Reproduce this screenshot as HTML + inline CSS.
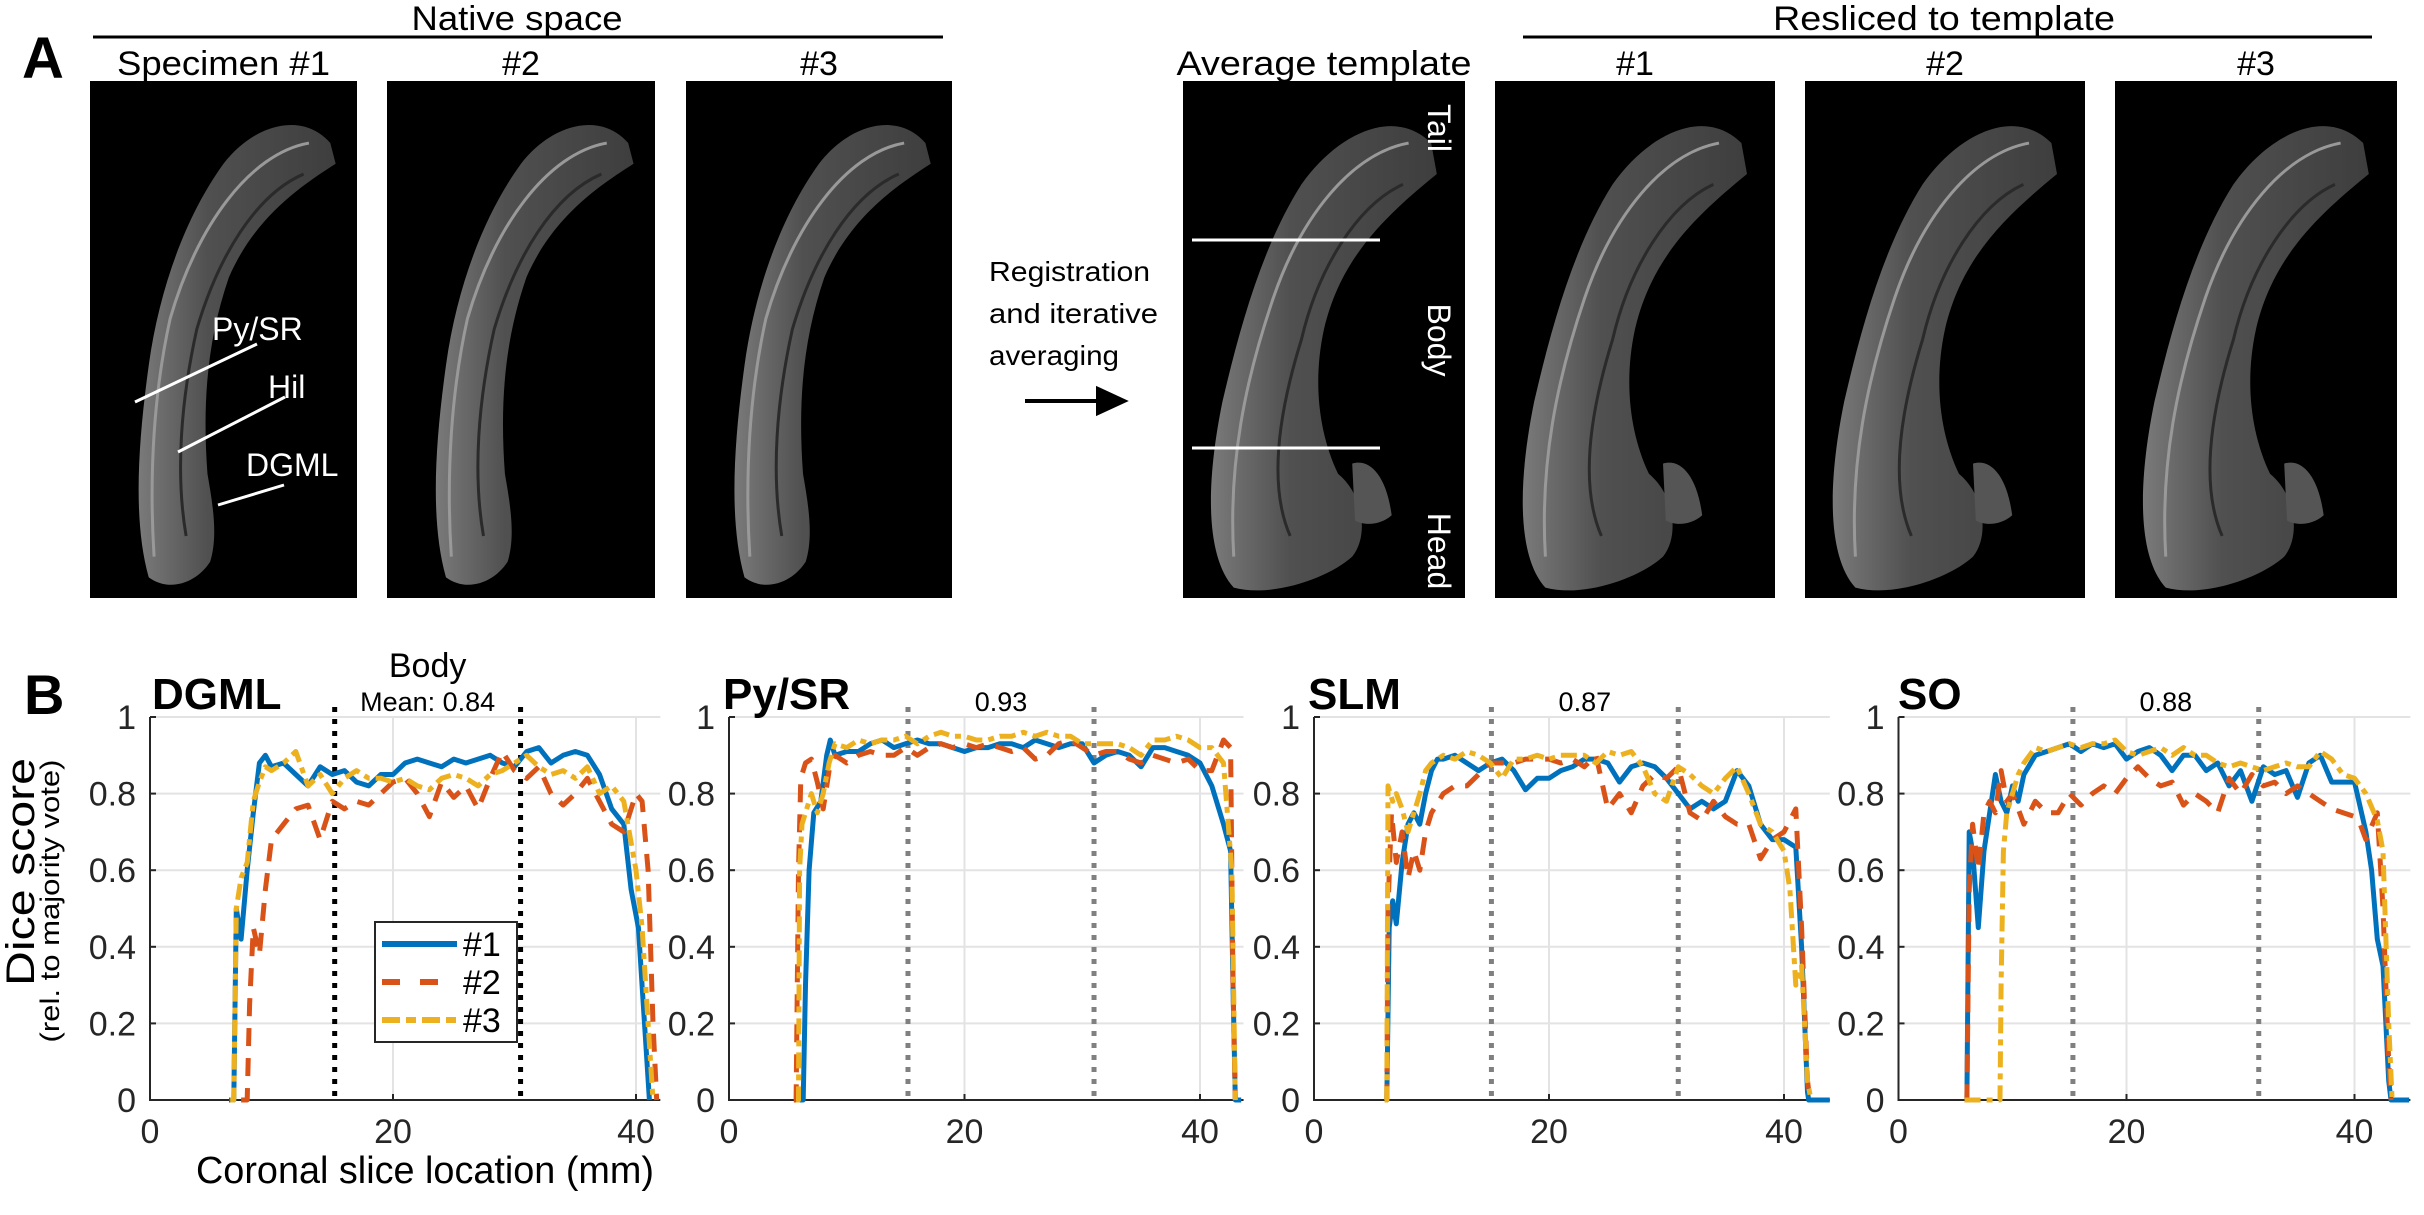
<!DOCTYPE html>
<html><head><meta charset="utf-8"><title>Hippocampus template and Dice scores</title>
<style>
html,body{margin:0;padding:0;background:#fff;}
svg{display:block;}
text{font-family:"Liberation Sans",sans-serif;}
</style></head>
<body>
<svg id="fig" xmlns="http://www.w3.org/2000/svg" width="2424" height="1215" viewBox="0 0 2424 1215">
<defs>
<linearGradient id="tissue" x1="0" y1="0" x2="1" y2="0">
<stop offset="0" stop-color="#7a7a7a"/><stop offset="0.35" stop-color="#505050"/><stop offset="1" stop-color="#3e3e3e"/>
</linearGradient>
</defs>
<g id="panelA"></g>
<g id="panelB"></g>
</svg>
<script>
// ===== Chart data (mm positions and Dice values) =====
const xTickLabels = ["0","20","40"];
const yTickLabels = ["0","0.2","0.4","0.6","0.8","1"];
const seriesNames = ["#1","#2","#3"];
const panelTitles = ["DGML","Py/SR","SLM","SO"];
const bodyMeans = ["Mean: 0.84","0.93","0.87","0.88"];
const bodyBounds = [[15.2,30.5],[15.2,31.0],[15.1,31.0],[15.3,31.6]];

const dgmlX1 = [6.5,6.9,7.1,7.5,8,8.5,9,9.5,10,11,12,13,14,15,16,17,18,19,20,21,22,23,24,25,26,27,28,29,30,31,32,33,34,35,36,37,38,39,39.6,40.2,40.7,41.1];
const dgmlY1 = [0,0,0.5,0.42,0.6,0.75,0.88,0.9,0.87,0.88,0.85,0.82,0.87,0.85,0.86,0.83,0.82,0.85,0.85,0.88,0.89,0.88,0.87,0.89,0.88,0.89,0.9,0.88,0.87,0.91,0.92,0.88,0.9,0.91,0.9,0.85,0.76,0.72,0.55,0.45,0.2,0];
const dgmlX2 = [7.5,8.0,8.2,8.5,9,9.5,10,11,12,13,14,15,16,17,18,19,20,21,22,23,24,25,26,27,28,29,30,31,32,33,34,35,36,37,38,39,40,40.5,41,41.4,41.7];
const dgmlY2 = [0,0,0.25,0.45,0.38,0.55,0.68,0.72,0.76,0.77,0.68,0.78,0.76,0.78,0.77,0.8,0.83,0.84,0.8,0.74,0.83,0.79,0.82,0.76,0.84,0.91,0.86,0.84,0.87,0.8,0.77,0.8,0.84,0.78,0.72,0.7,0.8,0.78,0.6,0.2,0];
const dgmlX3 = [6.6,6.9,7.1,7.5,8,8.5,9,9.5,10,11,12,13,14,15,16,17,18,19,20,21,22,23,24,25,26,27,28,29,30,31,32,33,34,35,36,37,38,39,40,40.5,41,41.4];
const dgmlY3 = [0,0,0.5,0.58,0.62,0.78,0.83,0.87,0.86,0.88,0.91,0.82,0.85,0.8,0.84,0.86,0.84,0.84,0.83,0.84,0.82,0.81,0.84,0.85,0.84,0.82,0.85,0.86,0.88,0.9,0.87,0.85,0.86,0.84,0.87,0.8,0.82,0.78,0.6,0.45,0.2,0];

const pyX1 = [6.0,6.3,6.5,6.8,7.2,7.8,8.3,8.6,9,10,11,12,13,14,15,16,17,18,19,20,21,22,23,24,25,26,27,28,29,30,31,32,33,34,35,36,37,38,39,40,41,42,42.6,42.8,43.0,43.5];
const pyY1 = [0,0,0.3,0.6,0.75,0.78,0.9,0.94,0.9,0.91,0.91,0.93,0.94,0.92,0.93,0.94,0.93,0.93,0.92,0.91,0.92,0.92,0.93,0.93,0.92,0.94,0.93,0.92,0.93,0.93,0.88,0.9,0.91,0.9,0.87,0.92,0.92,0.91,0.9,0.88,0.82,0.72,0.65,0.3,0,0];
const pyX2 = [5.5,5.7,5.9,6.1,6.5,7,7.5,8,8.5,9,10,11,12,13,14,15,16,17,18,19,20,21,22,23,24,25,26,27,28,29,30,31,32,33,34,35,36,37,38,39,40,41,42,42.6,42.8,43];
const pyY2 = [0,0,0.6,0.84,0.88,0.89,0.83,0.76,0.86,0.9,0.88,0.9,0.91,0.9,0.9,0.92,0.9,0.92,0.93,0.92,0.93,0.92,0.93,0.92,0.91,0.92,0.89,0.9,0.93,0.94,0.92,0.9,0.91,0.91,0.89,0.88,0.9,0.89,0.88,0.89,0.86,0.86,0.94,0.92,0.3,0];
const pyX3 = [5.7,5.9,6.0,6.2,6.6,7,7.5,8,8.5,9,10,11,12,13,14,15,16,17,18,19,20,21,22,23,24,25,26,27,28,29,30,31,32,33,34,35,36,37,38,39,40,41,42,42.7,43];
const pyY3 = [0,0,0.6,0.72,0.76,0.8,0.75,0.8,0.88,0.93,0.92,0.94,0.93,0.94,0.94,0.95,0.93,0.95,0.96,0.95,0.95,0.94,0.94,0.95,0.95,0.96,0.95,0.96,0.95,0.95,0.93,0.93,0.93,0.93,0.92,0.9,0.94,0.94,0.95,0.94,0.92,0.92,0.88,0.6,0];

const slmX1 = [6.0,6.2,6.4,6.7,7,7.5,8,8.5,9,9.5,10,10.5,11,12,13,14,15,16,17,18,19,20,21,22,23,24,25,26,27,28,29,30,31,32,33,34,35,36,37,38,39,40,41,41.5,42,42.1,43.9];
const slmY1 = [0,0,0.45,0.52,0.46,0.62,0.72,0.75,0.72,0.8,0.86,0.89,0.89,0.9,0.88,0.86,0.88,0.89,0.86,0.81,0.84,0.84,0.86,0.87,0.89,0.89,0.88,0.83,0.87,0.88,0.87,0.84,0.8,0.76,0.78,0.76,0.78,0.86,0.82,0.72,0.68,0.68,0.66,0.4,0.02,0,0];
const slmX2 = [6.0,6.2,6.3,6.6,7,7.5,8,8.5,9,9.5,10,11,12,13,14,15,16,17,18,19,20,21,22,23,24,25,26,27,28,29,30,31,32,33,34,35,36,37,38,39,40,41,41.5,42,42.2];
const slmY2 = [0,0,0.5,0.75,0.62,0.7,0.58,0.65,0.6,0.7,0.75,0.8,0.82,0.82,0.85,0.88,0.88,0.88,0.89,0.89,0.89,0.88,0.89,0.87,0.9,0.76,0.8,0.75,0.82,0.85,0.84,0.87,0.75,0.73,0.78,0.74,0.72,0.72,0.63,0.68,0.7,0.76,0.45,0.05,0];
const slmX3 = [6.0,6.2,6.3,6.7,7,7.5,8,8.5,9,9.5,10,11,12,13,14,15,16,17,18,19,20,21,22,23,24,25,26,27,28,29,30,31,32,33,34,35,36,37,38,39,40,40.5,41,41.5,42,42.3];
const slmY3 = [0,0,0.82,0.78,0.8,0.76,0.7,0.75,0.8,0.86,0.88,0.9,0.89,0.91,0.9,0.88,0.84,0.89,0.89,0.9,0.89,0.9,0.9,0.9,0.88,0.91,0.9,0.91,0.87,0.8,0.78,0.87,0.85,0.82,0.8,0.84,0.87,0.8,0.72,0.7,0.65,0.55,0.3,0.35,0.05,0];

const soX1 = [5.8,6.0,6.2,6.5,7,7.5,8,8.5,9,9.5,10,10.5,11,12,13,14,15,16,17,18,19,20,21,22,23,24,25,26,27,28,29,30,31,32,33,34,35,36,37,38,39,40,41,41.5,42,42.5,43,43.2,44.8];
const soY1 = [0,0,0.7,0.65,0.45,0.65,0.75,0.85,0.78,0.75,0.82,0.78,0.85,0.9,0.91,0.92,0.93,0.91,0.93,0.92,0.93,0.89,0.91,0.92,0.9,0.86,0.9,0.9,0.86,0.88,0.82,0.86,0.78,0.87,0.85,0.86,0.79,0.88,0.9,0.83,0.83,0.83,0.7,0.6,0.42,0.35,0.05,0,0];
const soX2 = [5.8,6.0,6.2,6.5,7,7.5,8,8.5,9,9.5,10,11,12,13,14,15,16,17,18,19,20,21,22,23,24,25,26,27,28,29,30,31,32,33,34,35,36,37,38,39,40,40.5,41,42,42.5,43,43.2];
const soY2 = [0,0,0.55,0.72,0.6,0.75,0.78,0.75,0.86,0.78,0.8,0.72,0.78,0.75,0.75,0.8,0.77,0.8,0.82,0.8,0.84,0.87,0.84,0.82,0.83,0.77,0.8,0.78,0.75,0.84,0.8,0.85,0.82,0.83,0.8,0.82,0.8,0.78,0.76,0.75,0.74,0.72,0.68,0.75,0.5,0.1,0];
const soX3 = [5.8,8.9,9.0,9.2,9.5,10,10.5,11,12,13,14,15,16,17,18,19,20,21,22,23,24,25,26,27,28,29,30,31,32,33,34,35,36,37,38,39,40,41,42,42.5,43,43.3];
const soY3 = [0,0,0.3,0.65,0.75,0.8,0.85,0.88,0.92,0.91,0.92,0.93,0.92,0.93,0.93,0.94,0.91,0.9,0.91,0.92,0.9,0.92,0.9,0.9,0.88,0.87,0.88,0.87,0.86,0.87,0.88,0.87,0.87,0.91,0.89,0.85,0.84,0.8,0.73,0.65,0.2,0];

const chartXs = [[dgmlX1,dgmlX2,dgmlX3],[pyX1,pyX2,pyX3],[slmX1,slmX2,slmX3],[soX1,soX2,soX3]];
const chartYs = [[dgmlY1,dgmlY2,dgmlY3],[pyY1,pyY2,pyY3],[slmY1,slmY2,slmY3],[soY1,soY2,soY3]];
const xMaxMm = [42.0,43.7,43.9,44.9];

// ===== Layout =====
const NS = "http://www.w3.org/2000/svg";
function mk(tag, attrs, parent, txt){
  const e = document.createElementNS(NS, tag);
  for (const k in attrs) e.setAttribute(k, attrs[k]);
  if (txt !== undefined) e.textContent = txt;
  parent.appendChild(e);
  return e;
}
const A = document.getElementById('panelA');
const B = document.getElementById('panelB');

// ---- Panel A ----
let t;
t = mk('text',{x:22,y:78,'font-size':58,'font-weight':'bold',fill:'#000'},A,'A');


t = mk('text',{x:517,y:30,'font-size':34,'text-anchor':'middle',textLength:211,lengthAdjust:'spacingAndGlyphs'},A,'Native space');


t = mk('line',{x1:93,y1:37,x2:943,y2:37,stroke:'#000','stroke-width':3},A);


t = mk('text',{x:1944,y:30,'font-size':34,'text-anchor':'middle',textLength:342,lengthAdjust:'spacingAndGlyphs'},A,'Resliced to template');


t = mk('line',{x1:1523,y1:37,x2:2372,y2:37,stroke:'#000','stroke-width':3},A);



const boxes = [
 {x:90,w:267,label:'Specimen #1',lw:213,name:'native-specimen-1'},
 {x:387,w:268,label:'#2',lw:0,name:'native-specimen-2'},
 {x:686,w:266,label:'#3',lw:0,name:'native-specimen-3'},
 {x:1183,w:282,label:'Average template',lw:295,name:'average-template'},
 {x:1495,w:280,label:'#1',lw:0,name:'resliced-specimen-1'},
 {x:1805,w:280,label:'#2',lw:0,name:'resliced-specimen-2'},
 {x:2115,w:282,label:'#3',lw:0,name:'resliced-specimen-3'}
];
const shapeNative = "M 90 12 C 80 6, 62 8, 50 16 C 36 26, 26 40, 22 55 C 18 70, 16 85, 22 96 C 30 99, 40 97, 45 93 C 48 88, 46 82, 44 76 C 42 62, 44 50, 52 38 C 62 26, 80 20, 92 16 Z";
const shapeTemplate = "M 88 12 C 75 5, 55 10, 42 20 C 28 32, 20 48, 14 62 C 8 78, 8 92, 18 98 C 32 100, 52 96, 60 92 C 66 88, 64 80, 55 76 C 48 68, 46 58, 50 48 C 56 34, 72 26, 90 18 Z";
const blob = "M 60 74 C 66 73, 72 76, 74 84 C 70 86, 64 86, 61 85 Z";
boxes.forEach((b,i)=>{
  const g = mk('g',{},A);
  
  
  mk('rect',{x:b.x,y:81,width:b.w,height:517,fill:'#000'},g);
  const sh = i<3 ? shapeNative : shapeTemplate;
  const tr = `translate(${b.x},81) scale(${b.w/100},${517/100})`;
  mk('path',{d:sh,transform:tr,fill:'url(#tissue)'},g);
  if (i>=3) mk('path',{d:blob,transform:tr,fill:'#555'},g);
  const edge = i<3 ? "M 82 12 C 60 14, 40 28, 30 46 C 24 60, 22 76, 24 92" : "M 80 12 C 60 14, 42 26, 32 42 C 22 58, 16 74, 18 92";
  const inner = i<3 ? "M 80 18 C 62 22, 48 34, 40 48 C 34 62, 32 76, 36 88" : "M 78 20 C 62 24, 48 36, 42 50 C 34 64, 30 78, 38 88";
  mk('path',{d:edge,transform:tr,fill:'none',stroke:'#999','stroke-width':3,'vector-effect':'non-scaling-stroke'},g);
  mk('path',{d:inner,transform:tr,fill:'none',stroke:'#2a2a2a','stroke-width':3,'vector-effect':'non-scaling-stroke'},g);
  const la = {x:b.x+b.w/2,y:75,'font-size':34,'text-anchor':'middle'};
  if (b.lw){ la.textLength=b.lw; la.lengthAdjust='spacingAndGlyphs'; }
  const lt = mk('text',la,A,b.label);
  
  
});
// native labels
[['Py/SR',212,340,[135,402],[257,344]],['Hil',268,398,[178,452],[285,397]],['DGML',246,476,[218,505],[284,485]]].forEach(a=>{
  const lt = mk('text',{x:a[1],y:a[2],'font-size':32,fill:'#fff'},A,a[0]);
  
  
  const ll = mk('line',{x1:a[3][0],y1:a[3][1],x2:a[4][0],y2:a[4][1],stroke:'#fff','stroke-width':3},A);
  
  
});
// template lines & region labels
[240,448].forEach(y=>{
  const l = mk('line',{x1:1192,y1:y,x2:1380,y2:y,stroke:'#fff','stroke-width':3},A);
  
  
});
[['Tail',128],['Body',340],['Head',551]].forEach(a=>{
  const lt = mk('text',{x:0,y:0,'font-size':32,fill:'#fff','text-anchor':'middle',transform:`translate(1428,${a[1]}) rotate(90)`},A,a[0]);
  
  
});
[['Registration',281,161],['and iterative',323,169],['averaging',365,130]].forEach(a=>{
  const lt = mk('text',{x:989,y:a[1],'font-size':28,textLength:a[2],lengthAdjust:'spacingAndGlyphs'},A,a[0]);
  
  
});
t = mk('path',{d:'M1025 401 L1108 401 M1098 389 L1124 401 L1098 413 Z',stroke:'#000','stroke-width':4,fill:'#000'},A);



// ---- Panel B ----
t = mk('text',{x:24,y:714,'font-size':56,'font-weight':'bold'},B,'B');



const axLeft = [150,729,1314,1898.5];
const axPer20 = [243,235.5,235,228];
const yTop = 717, yBot = 1100;
const colors = ['#0072BD','#D95319','#EDB120'];
const dashes = ['', '18 12', '16 6 6 6'];
const titleX = [152,723,1308,1898];

for (let c=0;c<4;c++){
  const g = mk('g',{},B);
  
  
  const xs = mm => axLeft[c] + mm/20*axPer20[c];
  const ys = v => yBot - v*(yBot-yTop);
  const xEnd = xs(xMaxMm[c]);
  yTickLabels.forEach((lab,i)=>{
    const v = parseFloat(lab);
    const gl = mk('line',{x1:axLeft[c],x2:xEnd,y1:ys(v),y2:ys(v),stroke:'#e3e3e3','stroke-width':2},g);
    
    
    const tl = mk('text',{x:axLeft[c]-14,y:ys(v)+12,'font-size':34,fill:'#262626','text-anchor':'end'},g,lab);
    
    
    const tk = mk('line',{x1:axLeft[c],x2:axLeft[c]+6,y1:ys(v),y2:ys(v),stroke:'#262626','stroke-width':2},g);
    
    
  });
  xTickLabels.forEach(lab=>{
    const v = parseFloat(lab);
    if (v>0){
      const gl = mk('line',{x1:xs(v),x2:xs(v),y1:yTop,y2:yBot,stroke:'#e3e3e3','stroke-width':2},g);
      
      
    }
    const tk = mk('line',{x1:xs(v),x2:xs(v),y1:yBot,y2:yBot-6,stroke:'#262626','stroke-width':2},g);
    
    
    const tl = mk('text',{x:xs(v),y:1143,'font-size':34,fill:'#262626','text-anchor':'middle'},g,lab);
    
    
  });
  bodyBounds[c].forEach(mm=>{
    const bl = mk('line',{x1:xs(mm),x2:xs(mm),y1:707,y2:yBot,stroke:c===0?'#000':'#808080','stroke-width':5,'stroke-dasharray':'5 7'},g);
    
    
  });
  const ax = mk('path',{d:`M${axLeft[c]} ${yTop} L${axLeft[c]} ${yBot} L${xEnd} ${yBot}`,fill:'none',stroke:'#262626','stroke-width':2},g);
  
  
  for (let s=0;s<3;s++){
    const X = chartXs[c][s], Y = chartYs[c][s];
    let d = '';
    for (let k=0;k<X.length;k++) d += (k?'L':'M') + xs(X[k]).toFixed(1) + ' ' + ys(Y[k]).toFixed(1) + ' ';
    const p = mk('path',{d:d,fill:'none',stroke:colors[s],'stroke-width':5,'stroke-linejoin':'round'},g);
    if (dashes[s]) p.setAttribute('stroke-dasharray',dashes[s]);
    
    
  }
  const tt = mk('text',{x:titleX[c],y:709,'font-size':44,'font-weight':'bold'},g,panelTitles[c]);
  
  
  const midX = (xs(bodyBounds[c][0])+xs(bodyBounds[c][1]))/2;
  const mt = mk('text',{x:midX,y:711,'font-size':27,'text-anchor':'middle'},g,bodyMeans[c]);
  
  
  if (c===0){
    const bt = mk('text',{x:midX,y:677,'font-size':34,'text-anchor':'middle'},g,'Body');
    
    
  }
}
t = mk('text',{x:0,y:0,'font-size':40,'text-anchor':'middle',transform:'translate(34,872) rotate(-90)',textLength:228,lengthAdjust:'spacingAndGlyphs'},B,'Dice score');


t = mk('text',{x:0,y:0,'font-size':27,'text-anchor':'middle',transform:'translate(59,901) rotate(-90)',textLength:283,lengthAdjust:'spacingAndGlyphs'},B,'(rel. to majority vote)');


t = mk('text',{x:425,y:1183,'font-size':38,'text-anchor':'middle',textLength:458,lengthAdjust:'spacingAndGlyphs'},B,'Coronal slice location (mm)');


const lg = mk('g',{},B);


mk('rect',{x:375,y:922,width:142,height:120,fill:'#fff',stroke:'#262626','stroke-width':2},lg);
seriesNames.forEach((n,i)=>{
  const yy = 944 + i*38;
  const e = mk('g',{},lg);
  
  
  const l = mk('line',{x1:382,x2:457,y1:yy,y2:yy,stroke:colors[i],'stroke-width':6},e);
  if (dashes[i]) l.setAttribute('stroke-dasharray', i===1?'18 20':'18 6 10 6');
  mk('text',{x:463,y:yy+12,'font-size':34,fill:'#000'},e,n);
});
</script>
</body></html>
